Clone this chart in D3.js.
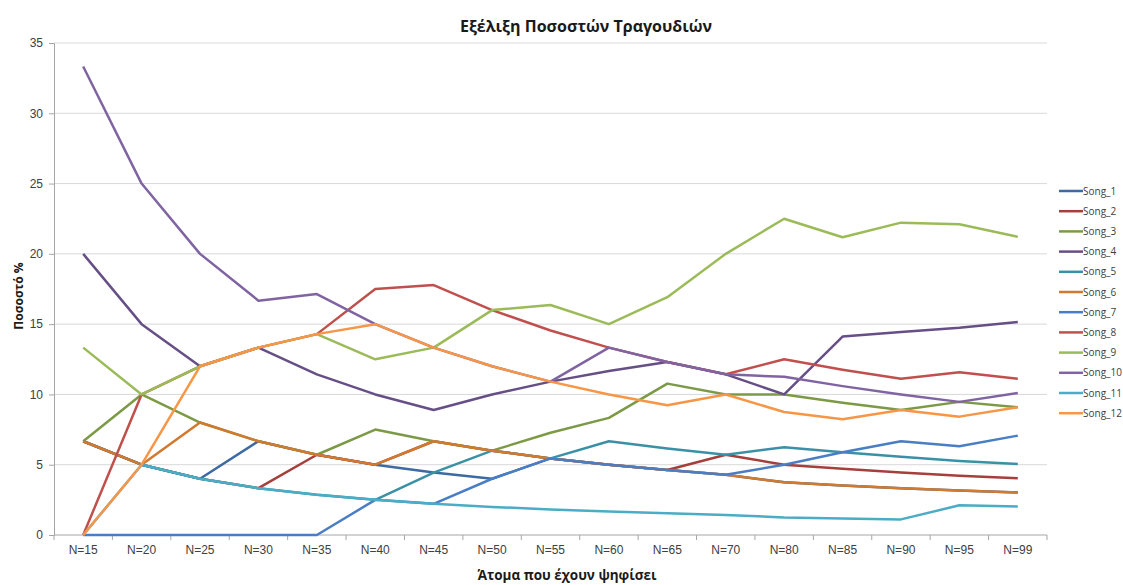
<!DOCTYPE html>
<html>
<head>
<meta charset="utf-8">
<script src="https://cdn.jsdelivr.net/npm/d3@7"></script>
<style>
  body { margin: 0; background: #fff; }
  svg { font-family: "Open Sans", "Noto Sans", sans-serif; }
  .axis text { fill: #404040; font-size: 12px; }
  .axis path, .axis line { stroke: #a6a6a6; }
  .legend text { fill: #404040; font-size: 10px; }
</style>
</head>
<body>
<script>
var width = 1123,
    height = 585,
    margin = {top: 43, right: 76, bottom: 50, left: 54};

// categories (number of voters)
var categories = ["N=15", "N=20", "N=25", "N=30", "N=35", "N=40", "N=45", "N=50", "N=55",
                  "N=60", "N=65", "N=70", "N=80", "N=85", "N=90", "N=95", "N=99"];

// percentage per song
var song1  = [6.67, 5, 4, 6.67, 5.71, 5, 4.44, 4, 5.45, 5, 4.62, 4.29, 3.75, 3.53, 3.33, 3.16, 3.03];
var song2  = [6.67, 5, 4, 3.33, 5.71, 5, 6.67, 6, 5.45, 5, 4.62, 5.71, 5, 4.71, 4.44, 4.21, 4.04];
var song3  = [6.67, 10, 8, 6.67, 5.71, 7.5, 6.67, 6, 7.27, 8.33, 10.77, 10, 10, 9.41, 8.89, 9.47, 9.09];
var song4  = [20, 15, 12, 13.33, 11.43, 10, 8.89, 10, 10.91, 11.67, 12.31, 11.43, 10, 14.12, 14.44, 14.74, 15.15];
var song5  = [6.67, 5, 4, 3.33, 2.86, 2.5, 4.44, 6, 5.45, 6.67, 6.15, 5.71, 6.25, 5.88, 5.56, 5.26, 5.05];
var song6  = [6.67, 5, 8, 6.67, 5.71, 5, 6.67, 6, 5.45, 5, 4.62, 4.29, 3.75, 3.53, 3.33, 3.16, 3.03];
var song7  = [0, 0, 0, 0, 0, 2.5, 2.22, 4, 5.45, 5, 4.62, 4.29, 5, 5.88, 6.67, 6.32, 7.07];
var song8  = [0, 10, 12, 13.33, 14.29, 17.5, 17.78, 16, 14.55, 13.33, 12.31, 11.43, 12.5, 11.76, 11.11, 11.58, 11.11];
var song9  = [13.33, 10, 12, 13.33, 14.29, 12.5, 13.33, 16, 16.36, 15, 16.92, 20, 22.5, 21.18, 22.22, 22.11, 21.21];
var song10 = [33.33, 25, 20, 16.67, 17.14, 15, 13.33, 12, 10.91, 13.33, 12.31, 11.43, 11.25, 10.59, 10, 9.47, 10.1];
var song11 = [0, 5, 4, 3.33, 2.86, 2.5, 2.22, 2, 1.82, 1.67, 1.54, 1.43, 1.25, 1.18, 1.11, 2.11, 2.02];
var song12 = [0, 5, 12, 13.33, 14.29, 15, 13.33, 12, 10.91, 10, 9.23, 10, 8.75, 8.24, 8.89, 8.42, 9.09];

var names = ["Song_1", "Song_2", "Song_3", "Song_4", "Song_5", "Song_6",
             "Song_7", "Song_8", "Song_9", "Song_10", "Song_11", "Song_12"];
var colors = ["#3d6aa3", "#a53f3c", "#7c9a45", "#664f86", "#3a91a6", "#d0792f",
              "#4a7ec4", "#c0504d", "#9bbb59", "#8064a2", "#4bacc6", "#f79646"];
var yTicks = [0, 5, 10, 15, 20, 25, 30, 35];

var series = [song1, song2, song3, song4, song5, song6, song7, song8, song9, song10, song11, song12]
    .map(function (v, i) { return {name: names[i], color: colors[i], values: v}; });

var svg = d3.select("body").append("svg")
    .attr("width", width)
    .attr("height", height);

var x = d3.scaleBand()
    .domain(categories)
    .range([margin.left, width - margin.right]);

var y = d3.scaleLinear()
    .domain([0, 35])
    .range([height - margin.bottom, margin.top]);

// gridlines
svg.append("g")
    .selectAll("line")
    .data(yTicks.slice(1))
    .enter().append("line")
    .attr("x1", margin.left)
    .attr("x2", width - margin.right)
    .attr("y1", function (d) { return y(d); })
    .attr("y2", function (d) { return y(d); })
    .attr("stroke", "#d9d9d9")
    .attr("stroke-width", 1);

// y axis
var yAxis = svg.append("g")
    .attr("class", "axis")
    .attr("transform", "translate(" + margin.left + ",0)")
    .call(d3.axisLeft(y).tickValues(yTicks).tickSize(5).tickPadding(6));

// x axis, ticks between categories
var xAxis = svg.append("g")
    .attr("class", "axis")
    .attr("transform", "translate(0," + y(0) + ")")
    .call(d3.axisBottom(x).tickSize(0).tickPadding(10));
xAxis.select(".domain").attr("d", "M" + margin.left + ",0H" + (width - margin.right));

svg.append("g")
    .selectAll("line")
    .data(categories.concat(["end"]))
    .enter().append("line")
    .attr("x1", function (d) { return d === "end" ? x.range()[1] : x(d); })
    .attr("x2", function (d) { return d === "end" ? x.range()[1] : x(d); })
    .attr("y1", y(0))
    .attr("y2", y(0) + 5)
    .attr("stroke", "#a6a6a6");

// lines
var line = d3.line()
    .x(function (d, i) { return x(categories[i]) + x.bandwidth() / 2; })
    .y(function (d) { return y(d); });

svg.append("g")
    .selectAll("path")
    .data(series)
    .enter().append("path")
    .attr("d", function (d) { return line(d.values); })
    .attr("fill", "none")
    .attr("stroke", function (d) { return d.color; })
    .attr("stroke-width", 2.5)
    .attr("stroke-linejoin", "round");

// titles
svg.append("text")
    .attr("x", 586)
    .attr("y", 32)
    .attr("text-anchor", "middle")
    .style("font-size", "16px")
    .style("font-weight", "bold")
    .style("fill", "#1a1a1a")
    .text("Εξέλιξη Ποσοστών Τραγουδιών");

svg.append("text")
    .attr("transform", "translate(23,296)rotate(-90)")
    .attr("text-anchor", "middle")
    .style("font-size", "12px")
    .style("font-weight", "bold")
    .style("fill", "#1a1a1a")
    .text("Ποσοστό %");

svg.append("text")
    .attr("x", 567)
    .attr("y", 580)
    .attr("text-anchor", "middle")
    .style("font-size", "13.5px")
    .style("font-weight", "bold")
    .style("fill", "#1a1a1a")
    .text("Άτομα που έχουν ψηφίσει");

// legend
var legend = svg.append("g")
    .attr("class", "legend")
    .selectAll("g")
    .data(series)
    .enter().append("g")
    .attr("transform", function (d, i) { return "translate(1059," + (191 + i * 20.2) + ")"; });

legend.append("line")
    .attr("x1", 0)
    .attr("x2", 24)
    .attr("stroke", function (d) { return d.color; })
    .attr("stroke-width", 2.5);

legend.append("text")
    .attr("x", 24)
    .attr("dy", "0.35em")
    .text(function (d) { return d.name; });
</script>
</body>
</html>
